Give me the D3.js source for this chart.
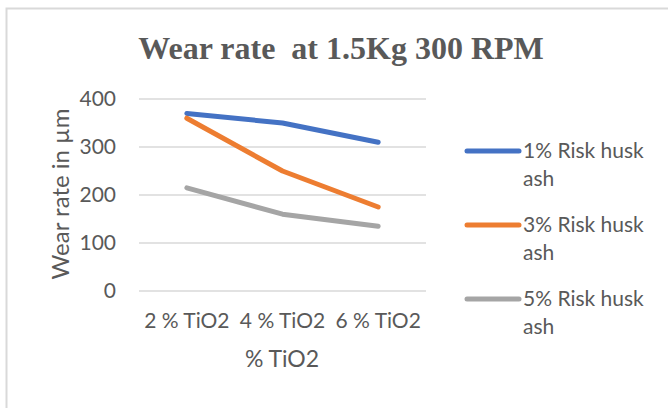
<!DOCTYPE html>
<html>
<head>
<meta charset="utf-8">
<script src="https://cdn.jsdelivr.net/npm/d3@7/dist/d3.min.js"></script>
<style>
  html, body { margin: 0; padding: 0; background: #fff; }
  svg { display: block; }
</style>
</head>
<body>
<svg id="chart" width="668" height="408"></svg>
<script>
// Wear rate data at 1.5 Kg load, 300 RPM
const categories = ["2 % TiO2", "4 % TiO2", "6 % TiO2"];
const seriesNames = ["1% Risk husk ash", "3% Risk husk ash", "5% Risk husk ash"];
const ash1 = [370, 350, 310];
const ash3 = [360, 250, 175];
const ash5 = [215, 160, 135];
const yTicks = [0, 100, 200, 300, 400];
const colors = ["#4472C4", "#ED7D31", "#A5A5A5"];

const series = [ash1, ash3, ash5].map((vals, i) => ({ name: seriesNames[i], values: vals, color: colors[i] }));

const svg = d3.select("#chart");
const font = "Lato, 'Open Sans', sans-serif";
const textColor = "#595959";

// outer frame
svg.append("rect")
  .attr("x", 6.5).attr("y", 8.5)
  .attr("width", 680).attr("height", 420)
  .attr("fill", "#fff").attr("stroke", "#d9d9d9").attr("stroke-width", 2);

// title
svg.append("text")
  .attr("x", 341).attr("y", 59)
  .attr("text-anchor", "middle")
  .attr("font-family", "'Liberation Serif', 'Times New Roman', serif")
  .attr("font-weight", "bold")
  .attr("font-size", 32)
  .attr("fill", textColor)
  .attr("xml:space", "preserve")
  .text("Wear rate  at 1.5Kg 300 RPM");

const plot = { left: 139, right: 426, top: 99, bottom: 291 };

const x = d3.scaleBand().domain(categories).range([plot.left, plot.right]);
const y = d3.scaleLinear().domain([0, 400]).range([plot.bottom, plot.top]);

// horizontal gridlines
svg.append("g").selectAll("line").data(yTicks).join("line")
  .attr("x1", plot.left).attr("x2", plot.right)
  .attr("y1", d => y(d)).attr("y2", d => y(d))
  .attr("stroke", "#d9d9d9").attr("stroke-width", 1.5);

// y axis labels
const yAxis = svg.append("g")
  .attr("transform", `translate(${plot.left},0)`)
  .call(d3.axisLeft(y).tickValues(yTicks).tickSize(0).tickPadding(23));
yAxis.select(".domain").remove();
yAxis.selectAll("text")
  .attr("font-family", font).attr("font-size", 21).attr("fill", textColor);

// x axis labels
const xAxis = svg.append("g")
  .attr("transform", `translate(0,${plot.bottom})`)
  .call(d3.axisBottom(x).tickSize(0).tickPadding(22));
xAxis.select(".domain").remove();
xAxis.selectAll("text")
  .attr("font-family", font).attr("font-size", 21).attr("fill", textColor);

// axis titles
svg.append("text")
  .attr("transform", "translate(69,194) rotate(-90)")
  .attr("text-anchor", "middle")
  .attr("font-family", font).attr("font-size", 24).attr("fill", textColor)
  .text("Wear rate in µm");

svg.append("text")
  .attr("x", 282).attr("y", 367)
  .attr("text-anchor", "middle")
  .attr("font-family", font).attr("font-size", 23).attr("fill", textColor)
  .text("% TiO2");

// series lines
const line = d3.line()
  .x((d, i) => x(categories[i]) + x.bandwidth() / 2)
  .y(d => y(d));

svg.append("g").selectAll("path").data(series).join("path")
  .attr("d", d => line(d.values))
  .attr("fill", "none")
  .attr("stroke", d => d.color)
  .attr("stroke-width", 5)
  .attr("stroke-linecap", "round")
  .attr("stroke-linejoin", "round");

// legend
const legend = svg.append("g").selectAll("g").data(series).join("g")
  .attr("transform", (d, i) => `translate(0,${151 + i * 74})`);
legend.append("line")
  .attr("x1", 467).attr("x2", 519)
  .attr("y1", 0).attr("y2", 0)
  .attr("stroke", d => d.color)
  .attr("stroke-width", 5)
  .attr("stroke-linecap", "round");
legend.each(function(d) {
  const words = d.name.split(" ");
  const first = words.slice(0, 3).join(" ");
  const second = words.slice(3).join(" ");
  const t = d3.select(this).append("text")
    .attr("font-family", font).attr("font-size", 21).attr("fill", textColor);
  t.append("tspan").attr("x", 523).attr("y", 7).text(first);
  t.append("tspan").attr("x", 523).attr("y", 35).text(second);
});
</script>
</body>
</html>
